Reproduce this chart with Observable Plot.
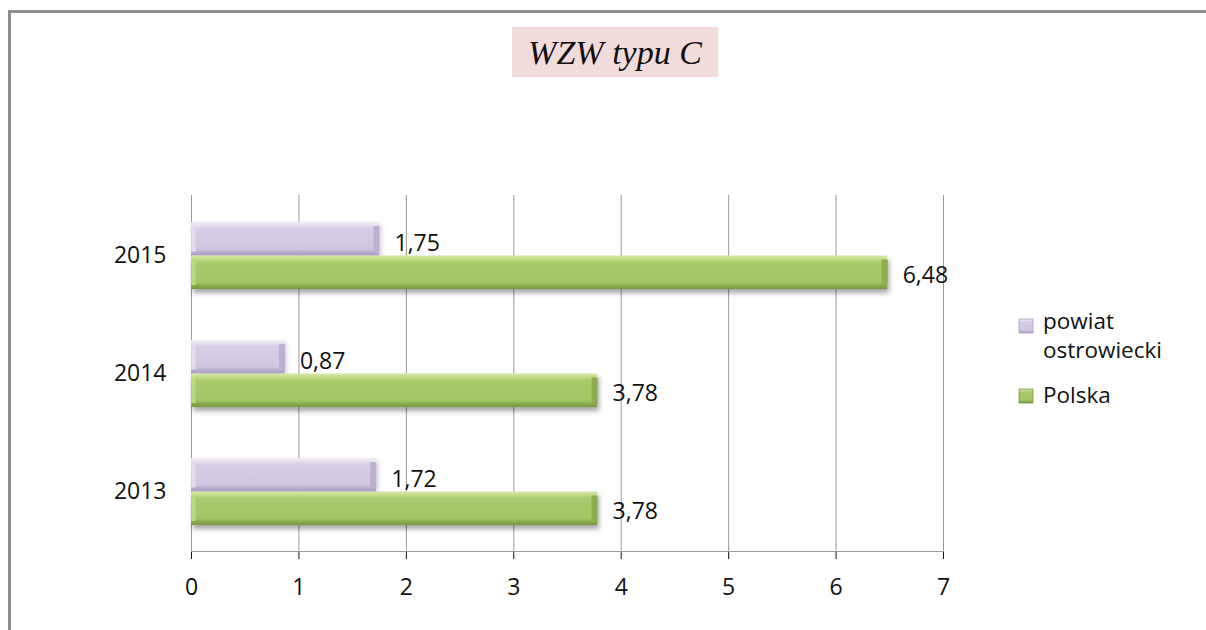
<!DOCTYPE html>
<html>
<head>
<meta charset="utf-8">
<script src="https://cdn.jsdelivr.net/npm/d3@7"></script>
<script src="https://cdn.jsdelivr.net/npm/@observablehq/plot@0.6"></script>
<style>
  html, body { margin: 0; padding: 0; background: #fff; overflow: hidden; }
  #wrap { position: relative; width: 1206px; height: 630px; overflow: hidden; background: #fff; }
  .edge { position: absolute; background: #8e8e8e; }
  #edgeTop { left: 8px; top: 10px; width: 1400px; height: 3px; }
  #edgeLeft { left: 8px; top: 10px; width: 3px; height: 800px; }
  #title { position: absolute; left: 512px; top: 27px; width: 206px; height: 50px; background: #f2dcdb;
           font: italic 34px "Liberation Serif", "DejaVu Serif", serif; color: #111; text-align: center;
           line-height: 50px; padding-top: 1px; box-sizing: border-box; }
  #chart { position: absolute; left: 0; top: 0; }
</style>
</head>
<body>
<div id="wrap">
  <div class="edge" id="edgeTop"></div>
  <div class="edge" id="edgeLeft"></div>
  <div id="chart"></div>
  <div id="title">WZW typu C</div>
</div>
<script>
// Wskaźnik WZW typu C – powiat ostrowiecki na tle Polski
const years = ["2015", "2014", "2013"];
const powiatValues = [1.75, 0.87, 1.72];
const polskaValues = [6.48, 3.78, 3.78];
const xTicks = [0, 1, 2, 3, 4, 5, 6, 7];
const seriesNames = ["powiat", "ostrowiecki", "Polska"];

const pl = d3.formatLocale({decimal: ",", thousands: " ", grouping: [3], currency: ["", " zł"]});
const fmt = pl.format(".2f");

const powiatData = years.map((year, i) => ({year, value: powiatValues[i]}));
const polskaData = years.map((year, i) => ({year, value: polskaValues[i]}));

const half = 33.5;
const font = "'Open Sans', sans-serif";

const chart = Plot.plot({
  width: 1206,
  height: 630,
  marginLeft: 191,
  marginRight: 263,
  marginTop: 195,
  marginBottom: 79,
  style: {fontFamily: font, fontSize: "23px", color: "#111", background: "transparent", overflow: "hidden"},
  x: {domain: [0, 7], ticks: xTicks, tickFormat: d3.format("d"), label: null, tickSize: 8, tickPadding: 19},
  y: {domain: years, paddingInner: 0.435, paddingOuter: 0.2175, label: null, tickSize: 0, tickPadding: 25},
  marks: [
    Plot.gridX(xTicks, {stroke: "#9a9a9a", strokeOpacity: 1}),
    Plot.frame({anchor: "bottom", stroke: "#9a9a9a"}),
    // miękki cień pod słupkami
    Plot.barX(polskaData, {x: "value", y: "year", insetTop: half, fill: "#000", fillOpacity: 0.35, dy: 4, dx: 2}),
    Plot.barX(powiatData, {x: "value", y: "year", insetBottom: half, fill: "#000", fillOpacity: 0.2, dy: 3, dx: 2}),
    // słupki z efektem skosu
    Plot.barX(powiatData, {x: "value", y: "year", insetBottom: half, fill: "url(#gradPowiat)"}),
    Plot.barX(polskaData, {x: "value", y: "year", insetTop: half, fill: "url(#gradPolska)"}),
    Plot.tickX(powiatData, {x: "value", y: "year", insetBottom: half + 4, insetTop: 4, dx: -3, stroke: "#bcb1d1", strokeWidth: 6}),
    Plot.tickX(polskaData, {x: "value", y: "year", insetTop: half + 4, insetBottom: 4, dx: -3, stroke: "#8dae4d", strokeWidth: 6}),
    Plot.tickX(powiatData, {x: 0, y: "year", insetBottom: half + 4, insetTop: 4, dx: 2, stroke: "#e2dced", strokeWidth: 4}),
    Plot.tickX(polskaData, {x: 0, y: "year", insetTop: half + 4, insetBottom: 4, dx: 2, stroke: "#bcd883", strokeWidth: 4}),
    // etykiety wartości
    Plot.text(powiatData, {x: "value", y: "year", text: d => fmt(d.value), textAnchor: "start", dx: 15, dy: -12.7, fill: "#111"}),
    Plot.text(polskaData, {x: "value", y: "year", text: d => fmt(d.value), textAnchor: "start", dx: 15, dy: 19.6, fill: "#111"})
  ]
});

document.getElementById("chart").appendChild(chart);

const svg = d3.select(chart);
const defs = svg.insert("defs", ":first-child");

function grad(id, stops) {
  const g = defs.append("linearGradient").attr("id", id)
    .attr("x1", 0).attr("y1", 0).attr("x2", 0).attr("y2", 1);
  stops.forEach(([o, c]) => g.append("stop").attr("offset", o).attr("stop-color", c));
}
grad("gradPowiat", [[0, "#f0ecf5"], [0.1, "#e6e0ef"], [0.2, "#d6cde6"], [0.8, "#d0c6e0"], [0.9, "#b8adce"], [1, "#a79bc0"]]);
grad("gradPolska", [[0, "#d6e9ad"], [0.1, "#c3dc8a"], [0.22, "#a9ca6b"], [0.8, "#a3c564"], [0.9, "#8aab4b"], [1, "#78983e"]]);

const blur = defs.append("filter").attr("id", "soft")
  .attr("x", "-5%").attr("y", "-60%").attr("width", "110%").attr("height", "220%");
blur.append("feGaussianBlur").attr("stdDeviation", 2.5);

// pierwsze dwie grupy słupków to cienie
svg.selectAll("g[aria-label='bar']").filter((d, i) => i < 2).attr("filter", "url(#soft)");

// legenda
const legend = svg.append("g").attr("font-family", font).attr("font-size", 22.5)
  .attr("fill", "#111").attr("text-anchor", "start");
legend.append("rect").attr("x", 1019).attr("y", 319).attr("width", 14).attr("height", 14)
  .attr("fill", "url(#gradPowiat)").attr("stroke", "#a79bc0").attr("stroke-width", 0.8);
legend.append("rect").attr("x", 1019).attr("y", 389).attr("width", 14).attr("height", 14)
  .attr("fill", "url(#gradPolska)").attr("stroke", "#78983e").attr("stroke-width", 0.8);
legend.append("text").attr("x", 1043).attr("y", 329).text(seriesNames[0]);
legend.append("text").attr("x", 1043).attr("y", 357.5).text(seriesNames[1]);
legend.append("text").attr("x", 1043).attr("y", 403).text(seriesNames[2]);
</script>
</body>
</html>
